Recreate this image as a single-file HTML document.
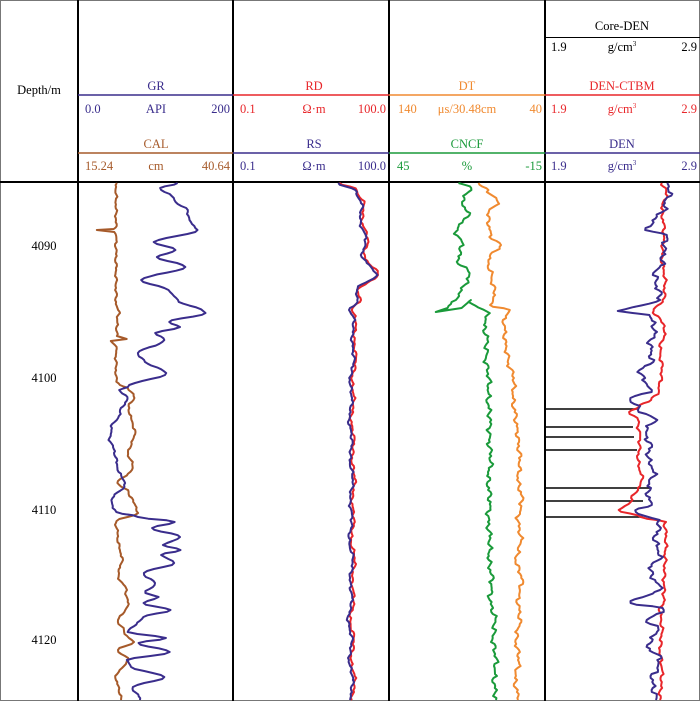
<!DOCTYPE html>
<html><head><meta charset="utf-8"><style>
html,body{margin:0;padding:0;background:#fff}
svg{display:block}
text{font-family:"Liberation Serif",serif;font-size:12.5px}
</style></head><body>
<svg id="s" width="700" height="701" viewBox="0 0 700 701" xmlns="http://www.w3.org/2000/svg">
<rect x="0.5" y="0.5" width="699" height="700" fill="#fff" stroke="#777" stroke-width="1"/>
<g stroke="#000" stroke-width="2">
<line x1="78" y1="0" x2="78" y2="701"/><line x1="233" y1="0" x2="233" y2="701"/>
<line x1="389" y1="0" x2="389" y2="701"/><line x1="545" y1="0" x2="545" y2="701"/>
<line x1="0" y1="182" x2="700" y2="182"/>
</g>
<line x1="545" y1="37.5" x2="700" y2="37.5" stroke="#000" stroke-width="1"/>
<g stroke-width="1.5">
<line x1="78" y1="95" x2="233" y2="95" stroke="#3a2d8c"/>
<line x1="78" y1="153" x2="233" y2="153" stroke="#a65a2a"/>
<line x1="233" y1="95" x2="389" y2="95" stroke="#e8262a"/>
<line x1="233" y1="153" x2="389" y2="153" stroke="#3a2d8c"/>
<line x1="389" y1="95" x2="545" y2="95" stroke="#f08a30"/>
<line x1="389" y1="153" x2="545" y2="153" stroke="#1a9a3a"/>
<line x1="545" y1="95" x2="700" y2="95" stroke="#e8262a"/>
<line x1="545" y1="153" x2="700" y2="153" stroke="#3a2d8c"/>
</g>
<text x="39" y="94" text-anchor="middle">Depth/m</text>
<g fill="#3a2d8c"><text x="156" y="90" text-anchor="middle">GR</text><text x="85" y="113">0.0</text><text x="156" y="113" text-anchor="middle">API</text><text x="230" y="113" text-anchor="end">200</text></g>
<g fill="#a65a2a"><text x="156" y="148" text-anchor="middle">CAL</text><text x="85" y="170">15.24</text><text x="156" y="170" text-anchor="middle">cm</text><text x="230" y="170" text-anchor="end">40.64</text></g>
<g fill="#e8262a"><text x="314" y="90" text-anchor="middle">RD</text><text x="240" y="113">0.1</text><text x="314" y="113" text-anchor="middle">Ω·m</text><text x="386" y="113" text-anchor="end">100.0</text></g>
<g fill="#3a2d8c"><text x="314" y="148" text-anchor="middle">RS</text><text x="240" y="170">0.1</text><text x="314" y="170" text-anchor="middle">Ω·m</text><text x="386" y="170" text-anchor="end">100.0</text></g>
<g fill="#f08a30"><text x="467" y="90" text-anchor="middle">DT</text><text x="398" y="113">140</text><text x="467" y="113" text-anchor="middle">μs/30.48cm</text><text x="542" y="113" text-anchor="end">40</text></g>
<g fill="#1a9a3a"><text x="467" y="148" text-anchor="middle">CNCF</text><text x="397" y="170">45</text><text x="467" y="170" text-anchor="middle">%</text><text x="542" y="170" text-anchor="end">-15</text></g>
<g fill="#000"><text x="622" y="30" text-anchor="middle">Core-DEN</text><text x="551" y="51">1.9</text><text x="622" y="51" text-anchor="middle">g/cm<tspan font-size="7" dy="-5">3</tspan></text><text x="697" y="51" text-anchor="end">2.9</text></g>
<g fill="#e8262a"><text x="622" y="90" text-anchor="middle">DEN-CTBM</text><text x="551" y="113">1.9</text><text x="622" y="113" text-anchor="middle">g/cm<tspan font-size="7" dy="-5">3</tspan></text><text x="697" y="113" text-anchor="end">2.9</text></g>
<g fill="#3a2d8c"><text x="622" y="148" text-anchor="middle">DEN</text><text x="551" y="170">1.9</text><text x="622" y="170" text-anchor="middle">g/cm<tspan font-size="7" dy="-5">3</tspan></text><text x="697" y="170" text-anchor="end">2.9</text></g>
<g fill="#000" text-anchor="middle"><text x="44" y="250">4090</text><text x="44" y="382">4100</text><text x="44" y="514">4110</text><text x="44" y="644">4120</text></g>
<g stroke="#000" stroke-width="1.5">
<line x1="545" y1="409" x2="637" y2="409"/><line x1="545" y1="427" x2="633" y2="427"/>
<line x1="545" y1="437" x2="634" y2="437"/><line x1="545" y1="450" x2="637" y2="450"/>
<line x1="545" y1="488" x2="651" y2="488"/><line x1="545" y1="501" x2="643" y2="501"/>
<line x1="545" y1="517" x2="643" y2="517"/>
</g>
<g id="curves" fill="none" stroke-width="2" stroke-linejoin="round"></g>
</svg>
<script>
function P(pts,amp,seed){
  var out=[];
  for(var i=0;i<pts.length-1;i++){
    var a=pts[i],b=pts[i+1];var n=Math.max(1,Math.round((b[1]-a[1])/2));
    for(var k=0;k<n;k++){var t=k/n;var y=a[1]+(b[1]-a[1])*t;var s=(1-Math.cos(Math.PI*t))/2;
      var x=a[0]+(b[0]-a[0])*s;
      x+=amp*(Math.sin(y*0.45+seed)+0.7*Math.sin(y*0.83+seed*2)+0.4*Math.sin(y*1.37+seed*3));
      out.push(x.toFixed(1)+","+y.toFixed(1));}
  }
  var l=pts[pts.length-1];out.push(l[0]+","+l[1]);
  return out.join(" ");
}
function add(pts,col,amp,seed,w){
  var e=document.createElementNS("http://www.w3.org/2000/svg","polyline");
  e.setAttribute("points",P(pts,amp,seed));e.setAttribute("stroke",col);
  if(w)e.setAttribute("stroke-width",w);
  document.getElementById("curves").appendChild(e);
}
var NAVY="#3a2d8c",RED="#e8262a",BR="#a65a2a",OR="#f08a30",GR="#1a9a3a";
add([[116,183],[116,226],[114,229],[98,230],[115,232],[116,236],[116,300],[117,310],[121,313],[117,317],[117,336],[126,339],[111,341],[116,345],[116,380],[120,385],[128,388],[135,398],[128,406],[131,418],[135,432],[133,440],[128,452],[133,468],[118,483],[128,492],[133,500],[138,513],[116,521],[118,540],[122,560],[118,575],[126,590],[128,606],[118,620],[124,632],[133,642],[118,650],[128,660],[116,676],[121,700]],BR,0.7,1);
add([[178,183],[161,188],[175,200],[188,212],[190,222],[198,230],[155,242],[175,250],[158,257],[185,267],[141,280],[168,290],[178,300],[206,313],[168,322],[181,327],[155,333],[165,340],[138,353],[143,360],[166,373],[128,387],[118,390],[128,397],[121,410],[111,430],[110,440],[115,453],[118,470],[125,483],[111,502],[116,512],[138,517],[176,522],[151,528],[181,537],[163,545],[181,550],[161,555],[175,563],[143,573],[155,583],[146,593],[158,597],[143,603],[170,610],[143,617],[128,632],[166,638],[138,643],[170,652],[128,660],[131,667],[165,677],[133,687],[140,700]],NAVY,0.8,2);
var rs=[[338,183],[355,190],[362,205],[360,220],[366,240],[362,255],[376,275],[356,290],[358,300],[350,310],[354,320],[352,340],[354,360],[350,380],[352,400],[349,420],[352,440],[350,460],[353,480],[350,500],[352,520],[349,540],[353,560],[350,580],[352,600],[348,620],[352,640],[349,660],[353,680],[350,700]];
add(rs.map(function(p){return [p[0]+2,p[1]]}),RED,0.8,5);
add(rs,NAVY,0.8,3);
add([[480,183],[486,190],[498,200],[488,215],[490,235],[500,245],[488,260],[492,280],[495,295],[490,305],[510,310],[504,318],[505,340],[508,360],[514,380],[513,400],[516,420],[518,440],[520,460],[518,480],[522,500],[518,520],[521,540],[516,560],[522,580],[518,600],[520,620],[516,640],[519,660],[515,680],[518,700]],OR,1.3,4);
add([[458,183],[472,188],[462,200],[468,215],[456,230],[462,245],[458,260],[470,275],[462,290],[455,300],[448,308],[434,312],[462,308],[470,300],[488,315],[484,325],[487,340],[486,360],[489,380],[488,400],[490,420],[489,440],[491,460],[488,480],[490,500],[488,520],[490,540],[489,560],[492,580],[490,600],[495,620],[493,640],[496,660],[494,680],[496,700]],GR,1.5,6);
add([[660,183],[667,190],[662,210],[664,230],[662,260],[665,280],[664,300],[652,311],[660,318],[665,330],[660,350],[662,370],[659,390],[652,400],[640,405],[630,412],[638,420],[640,440],[638,460],[642,480],[632,500],[620,510],[640,517],[665,522],[666,540],[665,560],[664,580],[664,600],[660,610],[662,630],[660,650],[662,670],[660,700]],RED,1,7);
add([[668,183],[670,190],[665,205],[648,230],[666,235],[663,260],[655,275],[660,300],[620,311],[650,315],[655,330],[650,345],[652,360],[640,372],[650,390],[630,400],[640,410],[655,420],[645,432],[650,445],[648,460],[654,470],[648,490],[650,505],[635,512],[660,522],[655,540],[660,555],[650,570],[660,590],[628,603],[665,608],[648,620],[658,630],[648,645],[660,660],[652,680],[656,700]],NAVY,2,8);
</script>
</body></html>
